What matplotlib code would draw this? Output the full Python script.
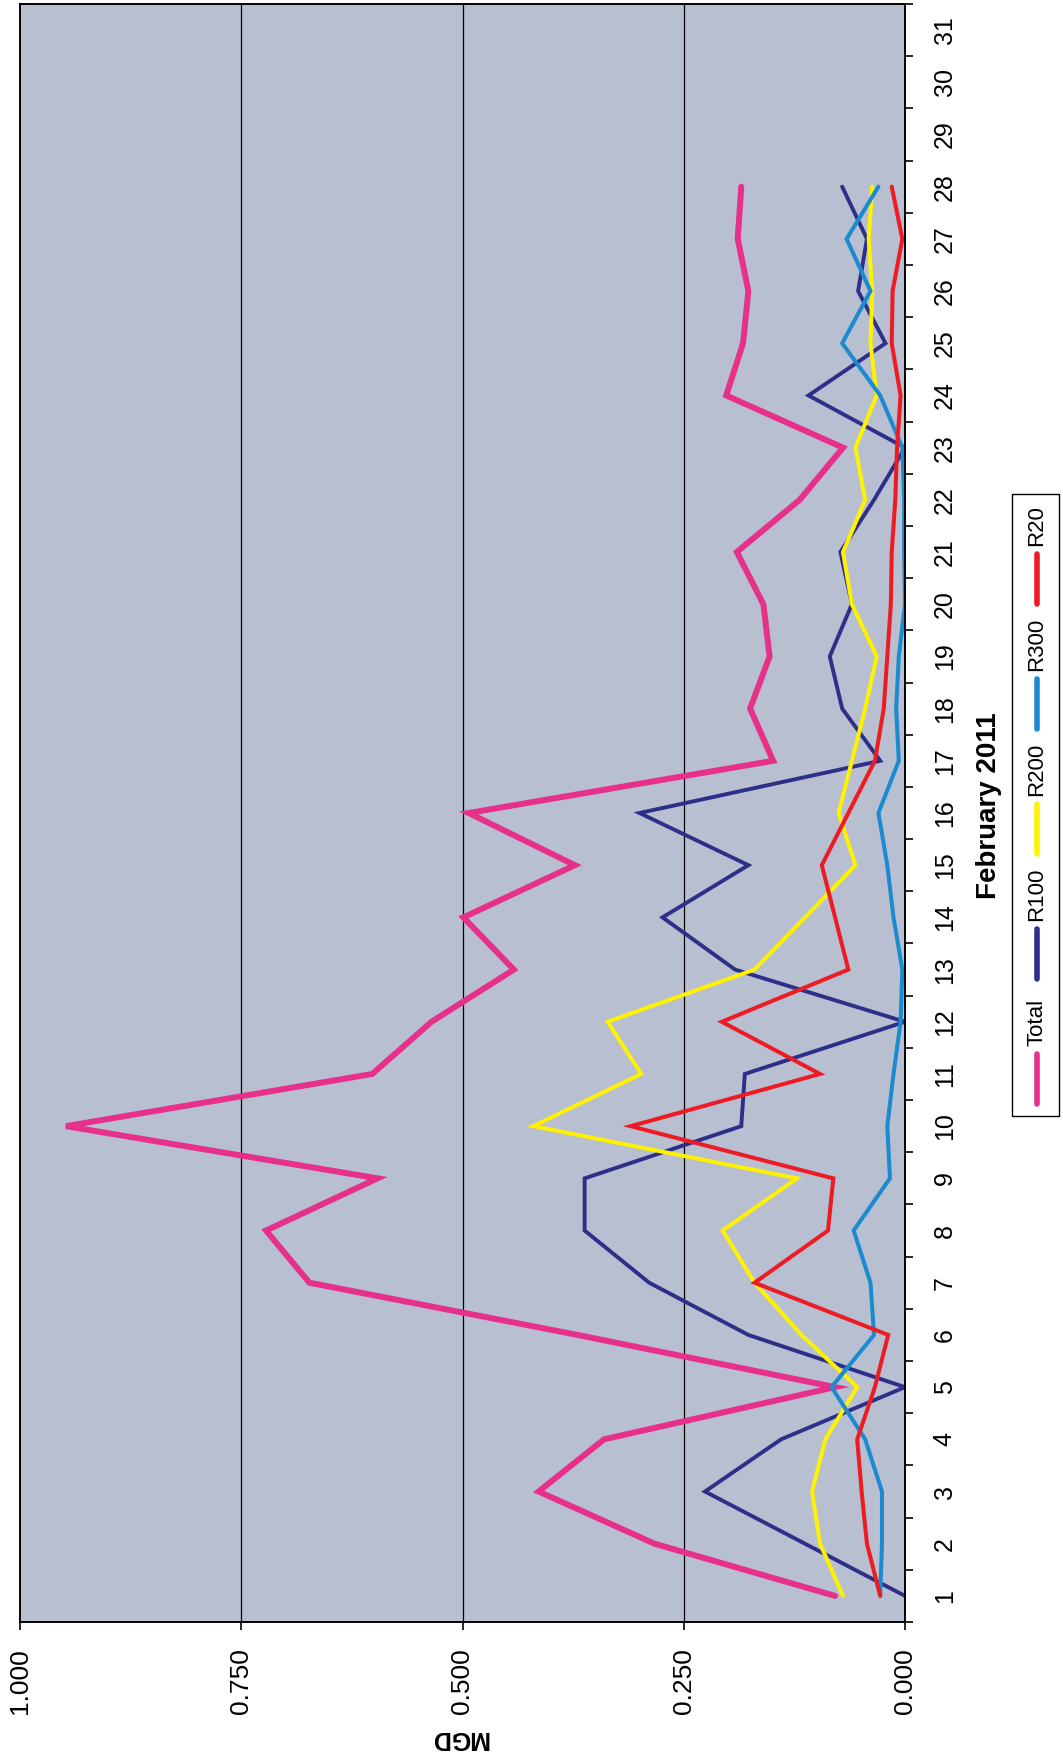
import numpy as np
import matplotlib
matplotlib.use("Agg")
from matplotlib import pyplot as plt
from matplotlib.lines import Line2D
from matplotlib.patches import Rectangle

plt.rcParams['font.family'] = ['Liberation Sans', 'DejaVu Sans']

# daily flows, February 2011 (MGD)
days = list(range(1, 29))
total = [0.079, 0.283, 0.414, 0.340, 0.079, 0.370, 0.673, 0.722, 0.596, 0.948,
         0.602, 0.535, 0.442, 0.499, 0.373, 0.493, 0.149, 0.175, 0.153, 0.160,
         0.190, 0.119, 0.070, 0.202, 0.183, 0.177, 0.189, 0.185]
r100 = [0.000, 0.113, 0.226, 0.140, 0.000, 0.177, 0.289, 0.362, 0.362, 0.185,
        0.181, 0.000, 0.192, 0.274, 0.177, 0.300, 0.028, 0.071, 0.085, 0.060,
        0.073, 0.035, 0.000, 0.109, 0.022, 0.053, 0.043, 0.071]
r200 = [0.070, 0.096, 0.105, 0.090, 0.054, 0.117, 0.170, 0.206, 0.122, 0.420,
        0.298, 0.336, 0.170, 0.113, 0.056, 0.075, 0.060, 0.045, 0.032, 0.060,
        0.070, 0.045, 0.056, 0.032, 0.039, 0.037, 0.041, 0.037]
r300 = [0.028, 0.026, 0.026, 0.045, 0.083, 0.035, 0.039, 0.058, 0.017, 0.020,
        0.013, 0.005, 0.003, 0.013, 0.020, 0.030, 0.007, 0.010, 0.007, 0.000,
        0.001, 0.001, 0.003, 0.028, 0.071, 0.039, 0.066, 0.030]
r20 = [0.028, 0.043, 0.049, 0.054, 0.034, 0.019, 0.170, 0.087, 0.081, 0.310,
       0.096, 0.207, 0.064, 0.079, 0.094, 0.064, 0.034, 0.024, 0.020, 0.016,
       0.015, 0.011, 0.009, 0.005, 0.015, 0.014, 0.003, 0.015]

series = ["Total", "R100", "R200", "R300", "R20"]
colors = ["#e6308a", "#2d2f88", "#fff200", "#1c8ad0", "#ed1c24"]
widths = [4.3, 2.8, 2.9, 2.9, 2.9]
mgd_ticks = [0.0, 0.25, 0.5, 0.75, 1.0]
day_labels = [str(d) for d in range(1, 32)]

W, H = 1063, 1761
fig = plt.figure(figsize=(W / 100, H / 100), dpi=100)
fig.patch.set_facecolor("white")

# chart is turned on its side: MGD runs right-to-left, days run bottom-to-top
ax = fig.add_axes([20 / W, 1 - 1622 / H, 885 / W, 1618 / H])
ax.set_facecolor("#b7bfd1")

for vals, c, lw in zip([total, r100, r200, r300, r20], colors, widths):
    ax.plot(vals, days, color=c, lw=lw, solid_joinstyle="miter", solid_capstyle="round")

ax.set_xlim(1.0, 0.0)
ax.set_ylim(0.5, 31.5)

ax.set_xticks(mgd_ticks)
ax.set_xticklabels(["%.3f" % v for v in mgd_ticks], rotation=90, fontsize=19)
ax.tick_params(axis="x", direction="out", length=6, width=1.2, pad=13)
for v in mgd_ticks[1:-1]:
    ax.axvline(v, color="black", lw=0.9, zorder=0.5)

ax.yaxis.tick_right()
ax.set_yticks(np.arange(0.5, 32, 1))
ax.set_yticklabels([])
ax.set_yticks(np.arange(1, 32), minor=True)
ax.set_yticklabels(day_labels, minor=True, rotation=90, fontsize=18, va="center", ha="left")
ax.tick_params(axis="y", which="major", direction="out", length=6, width=1.2)
ax.tick_params(axis="y", which="minor", length=0, pad=20)

for s in ax.spines.values():
    s.set_linewidth(1.4)
    s.set_color("black")

ax.set_xlabel("MGD", fontsize=18, fontweight="bold", rotation=180, va="center", ha="center")
ax.xaxis.set_label_coords((459 - 20) / 885, (1622 - 1738) / 1618)
ax.set_ylabel("February 2011", fontsize=20, fontweight="bold", rotation=90, va="center", ha="center")
ax.yaxis.set_label_position("right")
ax.yaxis.set_label_coords((976 - 20) / 885, (1622 - 806) / 1618)

# legend, drawn sideways like the rest of the page
fig.add_artist(Rectangle((1012 / W, 1 - 1116 / H), 47 / W, 622 / H, transform=fig.transFigure,
                         facecolor="white", edgecolor="black", lw=1.0))
y0 = 1104
for name, c in zip(series, colors):
    lx = 1037 / W
    fig.add_artist(Line2D([lx, lx], [1 - y0 / H, 1 - (y0 - 50) / H], transform=fig.transFigure,
                          color=c, lw=4.0, solid_capstyle="round"))
    fig.text(1037 / W, 1 - (y0 - 58) / H, name, rotation=90, rotation_mode="anchor",
             ha="left", va="center", fontsize=16)
    y0 -= 125

fig.savefig("out.png", dpi=100)
